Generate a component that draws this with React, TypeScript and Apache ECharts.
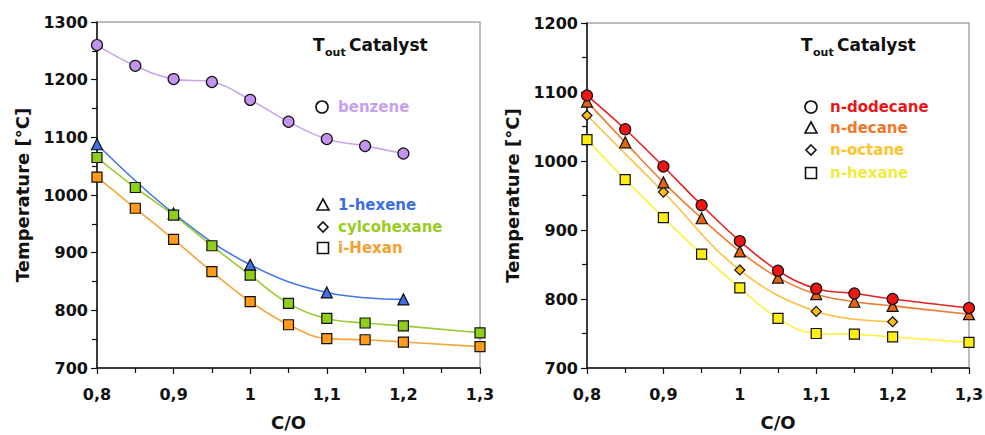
import React, { useEffect, useRef } from "react";
import * as echarts from "echarts";

// ---- data ----
const fullX = [0.8, 0.85, 0.9, 0.95, 1.0, 1.05, 1.1, 1.15, 1.2, 1.3];
const benzeneX = [0.8, 0.85, 0.9, 0.95, 1.0, 1.05, 1.1, 1.15, 1.2];
const benzene = [1260, 1224, 1201, 1196, 1165, 1127, 1097, 1085, 1072];
const hexeneX = [0.8, 0.9, 1.0, 1.1, 1.2];
const hexene1 = [1088, 968, 879, 831, 819];
const cyclohexane = [1065, 1013, 965, 912, 861, 812, 786, 778, 773, 761];
const iHexan = [1031, 977, 923, 867, 815, 775, 751, 749, 745, 737];
const dodecane = [1095, 1046, 992, 936, 884, 841, 815, 808, 800, 787];
const decane = [1086, 1027, 969, 917, 869, 831, 807, 796, 790, 778];
const octaneX = [0.8, 0.9, 1.0, 1.1, 1.2];
const octane = [1066, 955, 842, 782, 767];
const hexane = [1031, 973, 918, 865, 816, 772, 750, 749, 745, 737];

const leftLegend = ["benzene", "1-hexene", "cylcohexane", "i-Hexan"];
const rightLegend = ["n-dodecane", "n-decane", "n-octane", "n-hexane"];

const FONT = "DejaVu Sans";

const zip = (xs: number[], ys: number[]) => xs.map((x, i) => [x, ys[i]]);

export default function App() {
  const ref = useRef<HTMLDivElement>(null);
  useEffect(() => {
    document.body.style.margin = "0";
    const chart = echarts.init(ref.current!, null, { renderer: "svg" });

    const xAxisBase = (gridIndex: number) => ({
      type: "value",
      gridIndex,
      min: 0.8,
      max: 1.3,
      interval: 0.1,
      name: "C/O",
      nameLocation: "middle",
      nameGap: 45,
      nameTextStyle: { fontFamily: FONT, fontWeight: "bold", fontSize: 18, color: "#111" },
      axisLine: { lineStyle: { color: "#111", width: 1.5 } },
      axisTick: { show: true, length: 6, lineStyle: { color: "#111", width: 1.2 } },
      minorTick: { show: true, splitNumber: 2, length: 5, lineStyle: { color: "#111", width: 1.2 } },
      splitLine: { show: false },
      axisLabel: {
        margin: 18,
        fontFamily: FONT,
        fontWeight: "bold",
        fontSize: 16,
        color: "#111",
        formatter: (v: number) => String(Math.round(v * 10) / 10).replace(".", ","),
      },
    });
    const yAxisBase = (gridIndex: number, max: number) => ({
      type: "value",
      gridIndex,
      min: 700,
      max,
      interval: 100,
      name: "Temperature [°C]",
      nameLocation: "middle",
      nameGap: 66,
      nameTextStyle: { fontFamily: FONT, fontWeight: "bold", fontSize: 18, color: "#111" },
      axisLine: { show: true, lineStyle: { color: "#111", width: 1.5 } },
      axisTick: { show: true, length: 6, lineStyle: { color: "#111", width: 1.2 } },
      minorTick: { show: true, splitNumber: 2, length: 5, lineStyle: { color: "#111", width: 1.2 } },
      splitLine: { show: false },
      axisLabel: {
        margin: 9,
        fontFamily: FONT,
        fontWeight: "bold",
        fontSize: 16,
        color: "#111",
        formatter: (v: number) => String(Math.round(v)),
      },
    });

    const mk = (
      name: string,
      xi: number,
      data: number[][],
      symbol: string,
      size: number,
      fill: string,
      line: string
    ) => ({
      name,
      type: "line",
      xAxisIndex: xi,
      yAxisIndex: xi,
      data,
      smooth: 0.4,
      symbol,
      symbolSize: size,
      showAllSymbol: true,
      lineStyle: { color: line, width: 1.6 },
      itemStyle: { color: fill, borderColor: "#111", borderWidth: 1.2 },
      z: 2,
    });

    const title = (x: number) => [
      { type: "text", x, y: 45, style: { text: "T", fill: "#111", font: `bold 17px ${FONT}`, verticalAlign: "middle" } },
      { type: "text", x: x + 12, y: 52, style: { text: "out", fill: "#111", font: `bold 11px ${FONT}`, verticalAlign: "middle" } },
      { type: "text", x: x + 36, y: 45, style: { text: "Catalyst", fill: "#111", font: `bold 17px ${FONT}`, verticalAlign: "middle" } },
    ];
    const sym = (kind: string, cx: number, cy: number): any => {
      const st = { fill: "#fff", stroke: "#111", lineWidth: 1.6 };
      if (kind === "circle") return { type: "circle", shape: { cx, cy, r: 6 }, style: st };
      if (kind === "triangle")
        return { type: "polygon", shape: { points: [[cx, cy - 6], [cx + 6, cy + 5], [cx - 6, cy + 5]] }, style: st };
      if (kind === "diamond")
        return { type: "polygon", shape: { points: [[cx, cy - 5], [cx + 5, cy], [cx, cy + 5], [cx - 5, cy]] }, style: st };
      return { type: "rect", shape: { x: cx - 5.5, y: cy - 5.5, width: 11, height: 11 }, style: st };
    };
    const entry = (kind: string, sx: number, tx: number, y: number, text: string, color: string) => [
      sym(kind, sx, y),
      { type: "text", x: tx, y, style: { text, fill: color, font: `bold 15px ${FONT}`, verticalAlign: "middle" } },
    ];

    chart.setOption({
      animation: false,
      backgroundColor: "#fff",
      grid: [
        { left: 97, top: 22, width: 383, height: 346, outerBoundsMode: "none", containLabel: false, show: true, borderColor: "#a8a8a8", borderWidth: 1.5, backgroundColor: "transparent" },
        { left: 587, top: 23, width: 382, height: 345, outerBoundsMode: "none", containLabel: false, show: true, borderColor: "#a8a8a8", borderWidth: 1.5, backgroundColor: "transparent" },
      ],
      xAxis: [xAxisBase(0), xAxisBase(1)],
      yAxis: [yAxisBase(0, 1300), yAxisBase(1, 1200)],
      series: [
        mk(leftLegend[0], 0, zip(benzeneX, benzene), "circle", 11, "#c493ee", "#c9a3ec"),
        mk(leftLegend[1], 0, zip(hexeneX, hexene1), "triangle", 11, "#3f6fe0", "#4477ee"),
        mk(leftLegend[2], 0, zip(fullX, cyclohexane), "rect", 10, "#8fcf1a", "#99cc33"),
        mk(leftLegend[3], 0, zip(fullX, iHexan), "rect", 10, "#ff9a1a", "#f7a338"),
        mk(rightLegend[3], 1, zip(fullX, hexane), "rect", 10, "#ffee10", "#fff040"),
        mk(rightLegend[2], 1, zip(octaneX, octane), "diamond", 10, "#ffbb10", "#ffc040"),
        mk(rightLegend[1], 1, zip(fullX, decane), "triangle", 11, "#e8650f", "#f07c30"),
        mk(rightLegend[0], 1, zip(fullX, dodecane), "circle", 11, "#ee1515", "#e82020"),
      ],
      graphic: [
        ...title(313),
        ...title(801),
        ...entry("circle", 322, 338, 107, leftLegend[0], "#c8a0f0"),
        ...entry("triangle", 323, 338, 205, leftLegend[1], "#3c6ee6"),
        ...entry("diamond", 323, 338, 227, leftLegend[2], "#99cc22"),
        ...entry("rect", 323, 338, 248, leftLegend[3], "#f5a030"),
        ...entry("circle", 811, 830, 107, rightLegend[0], "#e81818"),
        ...entry("triangle", 811, 830, 128, rightLegend[1], "#f07828"),
        ...entry("diamond", 811, 830, 150, rightLegend[2], "#ffc42a"),
        ...entry("rect", 811, 830, 173, rightLegend[3], "#f0ec40"),
      ],
    });
    return () => chart.dispose();
  }, []);
  return <div ref={ref} style={{ width: 985, height: 435 }} />;
}
